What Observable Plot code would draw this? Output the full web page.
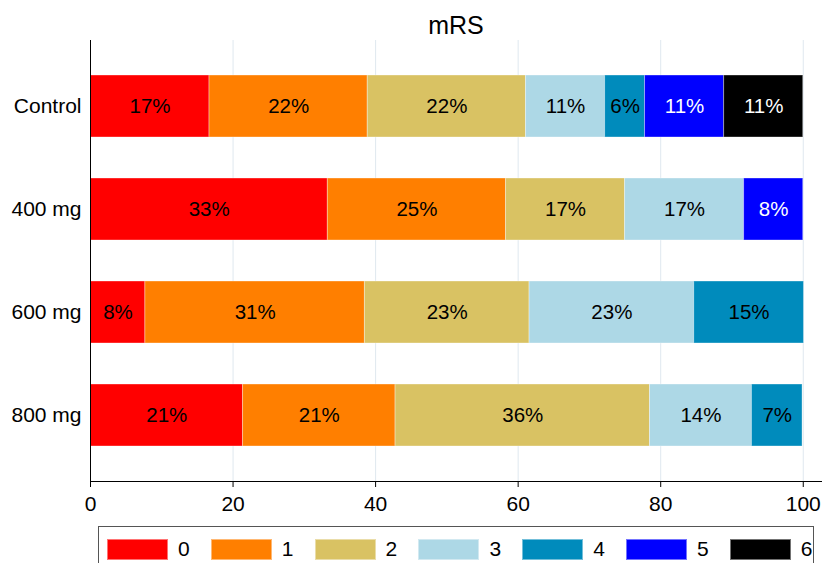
<!DOCTYPE html>
<html>
<head>
<meta charset="utf-8">
<script src="https://cdn.jsdelivr.net/npm/d3@7"></script>
<script src="https://cdn.jsdelivr.net/npm/@observablehq/plot@0.6"></script>
<style>
  html, body { margin: 0; padding: 0; background: #fff; }
  body { width: 822px; height: 563px; overflow: hidden; position: relative; font-family: "Liberation Sans", Arial, sans-serif; }
  #title { position: absolute; left: 90px; width: 732px; top: 10px; text-align: center; font-size: 25px; line-height: 30px; color: #000; }
  #chart { position: absolute; left: 0; top: 0; }
  #legend { position: absolute; left: 98px; top: 526px; width: 716px; height: 50px; border: 1px solid #555; box-sizing: border-box; }
  .item { position: absolute; top: 10px; display: flex; align-items: center; }
  .sw { width: 61px; height: 21px; box-sizing: border-box; border: 1px solid rgba(255,255,255,0.45); }
  .lab { margin-left: 10px; font-size: 21px; color: #000; }
</style>
</head>
<body>
<div id="title">mRS</div>
<div id="chart"></div>
<div id="legend"></div>
<script>
const groups = ["Control", "400 mg", "600 mg", "800 mg"];
const categories = ["0", "1", "2", "3", "4", "5", "6"];
const colors = ["#FF0000", "#FF7F00", "#D9C263", "#ADD8E6", "#008BBC", "#0000FF", "#000000"];
const control = [16.7, 22.2, 22.2, 11.1, 5.6, 11.1, 11.1];
const mg400 = [33.3, 25.0, 16.7, 16.7, 0, 8.3, 0];
const mg600 = [7.7, 30.8, 23.1, 23.1, 15.4, 0, 0];
const mg800 = [21.4, 21.4, 35.7, 14.3, 7.1, 0, 0];
const xTicks = [0, 20, 40, 60, 80, 100];

const series = [control, mg400, mg600, mg800];
const data = [];
groups.forEach((g, gi) => {
  categories.forEach((c, ci) => {
    const v = series[gi][ci];
    if (v > 0) data.push({group: g, cat: c, ci, value: v});
  });
});

const chart = Plot.plot({
  width: 822,
  height: 521,
  marginTop: 40,
  marginBottom: 40,
  marginLeft: 90,
  marginRight: 0,
  style: {fontFamily: '"Liberation Sans", Arial, sans-serif', fontSize: "21px", color: "#000", background: "transparent"},
  x: {domain: [0, 102.7], ticks: xTicks, tickSize: 6, tickPadding: 9, label: null},
  y: {domain: groups, paddingInner: 0.4, paddingOuter: 0.33, tickSize: 0, tickPadding: 9, label: null},
  color: {domain: categories, range: colors},
  marks: [
    Plot.gridX(xTicks, {stroke: "#dfe8ef", strokeOpacity: 1}),
    Plot.barX(data, Plot.stackX({x: "value", y: "group", fill: "cat", order: "ci", stroke: "rgba(255,255,255,0.35)", strokeWidth: 1})),
    Plot.text(data, Plot.stackX({x: "value", y: "group", z: "cat", order: "ci",
      text: d => Math.round(d.value) + "%",
      fill: d => (d.ci >= 5 ? "#fff" : "#000"),
      fontSize: 20.5})),
    Plot.ruleX([0], {stroke: "#000"}),
    Plot.frame({anchor: "bottom", stroke: "#000"}),
    Plot.axisX({ticks: xTicks, tickSize: 6, tickPadding: 9, fontSize: 21}),
    Plot.axisY({tickSize: 0, tickPadding: 9, fontSize: 21})
  ]
});
document.getElementById("chart").appendChild(chart);

const legend = document.getElementById("legend");
categories.forEach((c, i) => {
  const it = document.createElement("div");
  it.className = "item";
  it.style.left = (8 + i * 103.8) + "px";
  it.innerHTML = `<div class="sw" style="background:${colors[i]}"></div><span class="lab">${c}</span>`;
  legend.appendChild(it);
});
</script>
</body>
</html>
